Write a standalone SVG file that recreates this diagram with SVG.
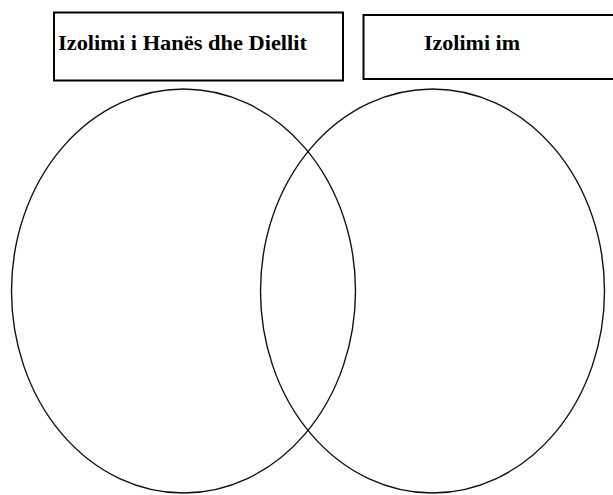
<svg xmlns="http://www.w3.org/2000/svg" width="613" height="495" viewBox="0 0 613 495">
<style>
.box{fill:#fff;stroke:#000;stroke-width:2}
.ell{fill:none;stroke:#111;stroke-width:1.4}
.lbl{font-family:'Liberation Serif','DejaVu Serif','Times New Roman',serif;font-weight:700;font-size:21px;fill:#000}
</style>
<rect width="613" height="495" fill="#fff"/>
<g id="box-left">
<rect class="box" x="54" y="12.5" width="289" height="68"/>
<text class="lbl" x="58" y="50" textLength="249" lengthAdjust="spacingAndGlyphs">Izolimi i Hanës dhe Diellit</text>
</g>
<g id="box-right">
<rect class="box" x="363.5" y="15" width="252" height="64"/>
<text class="lbl" x="424" y="50" textLength="96" lengthAdjust="spacingAndGlyphs">Izolimi im</text>
</g>
<g id="circles">
<ellipse id="ellipse-left" class="ell" cx="183.5" cy="291" rx="172" ry="202"/>
<ellipse id="ellipse-right" class="ell" cx="432.5" cy="291" rx="172" ry="202"/>
</g>
</svg>
